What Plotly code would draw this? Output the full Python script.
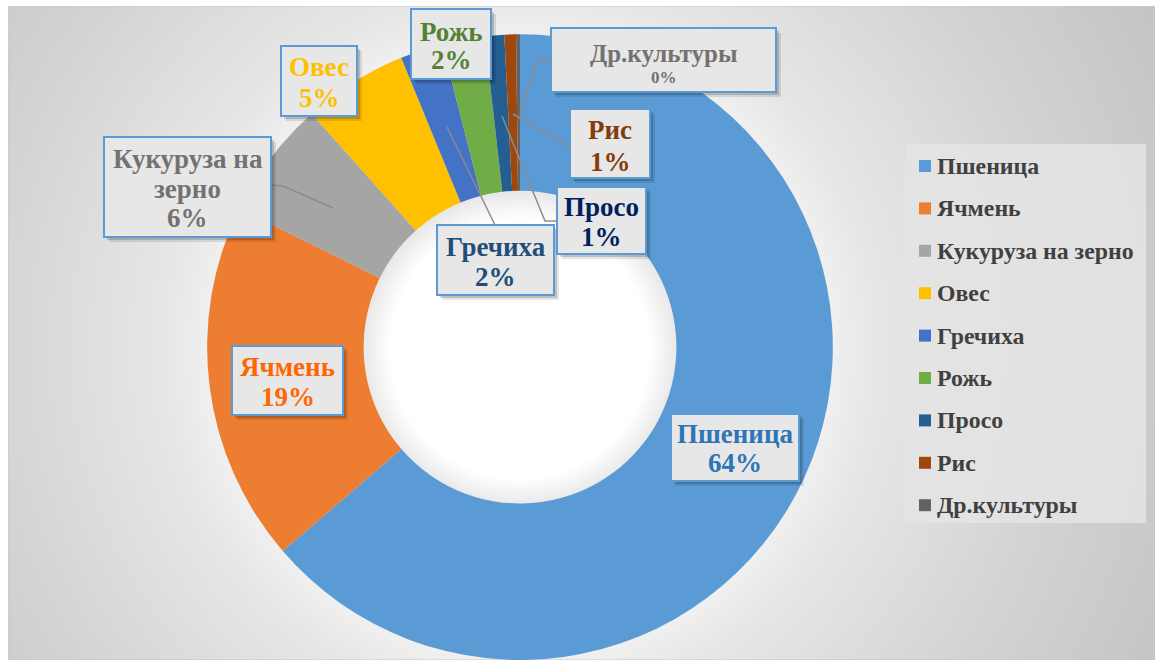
import base64
import plotly.graph_objects as go

# ---- data ----
crops = ["Пшеница", "Ячмень", "Кукуруза на зерно", "Овес", "Гречиха",
         "Рожь", "Просо", "Рис", "Др.культуры"]
shares = [63.7, 18.6, 6.1, 5.4, 2.2, 2.2, 1.0, 0.6, 0.2]

# ---- styles ----
slice_colors = ["#5B9BD5", "#ED7D31", "#A5A5A5", "#FFC000", "#4472C4",
                "#70AD47", "#255E91", "#9E480E", "#636363"]
label_colors = ["#2E75B6", "#FF6600", "#767171", "#FFC000", "#1F4E79",
                "#548235", "#002060", "#843C0C", "#767171"]
label_lines = {"Кукуруза на зерно": ["Кукуруза на", "зерно"]}
# label boxes in pixel space: x0, y0, x1, y1, line centre ys
label_boxes = [
    (671, 414, 799, 481, [434, 463]),
    (232, 346, 343, 415, [367, 397]),
    (104, 137, 271, 237, [159, 189, 218]),
    (281, 46, 357, 116, [67, 98]),
    (437, 225, 554, 295, [247, 277]),
    (411, 9, 491, 79, [32, 60]),
    (557, 187, 646, 254, [207, 237]),
    (570, 109, 650, 178, [130, 162]),
    (551, 28, 776, 92, [53, 77]),
]
leaders = {
    "Кукуруза на зерно": [(271, 185), (283, 186), (333, 208)],
    "Гречиха": [(495, 225), (447, 127)],
    "Просо": [(557, 221), (545, 221), (502, 116)],
    "Рис": [(570, 147), (513, 114)],
    "Др.культуры": [(551, 60), (537, 60), (520, 115)],
}
W, H = 1155, 660
FONT = "Liberation Serif"

# background radial gradient (chart area)
cx, cy = 512, 343
svg = f'''<svg xmlns="http://www.w3.org/2000/svg" width="1147" height="654" viewBox="0 0 1147 654" preserveAspectRatio="none">
<defs><radialGradient id="g" gradientUnits="userSpaceOnUse" cx="{cx}" cy="{cy}" r="720">
<stop offset="0" stop-color="#FFFFFF"/>
<stop offset="0.18" stop-color="#FFFFFF"/>
<stop offset="0.218" stop-color="#E8E8E8"/>
<stop offset="0.43" stop-color="#F0F0F0"/>
<stop offset="0.5" stop-color="#E6E6E6"/>
<stop offset="0.75" stop-color="#D3D3D3"/>
<stop offset="1" stop-color="#C4C4C4"/>
</radialGradient></defs>
<rect x="0" y="0" width="1147" height="654" fill="url(#g)" stroke="#C8C8C8" stroke-width="1"/>
</svg>'''
svg_uri = "data:image/svg+xml;base64," + base64.b64encode(svg.encode()).decode()

fig = go.Figure()
fig.add_trace(go.Scatter(x=[], y=[], showlegend=False, hoverinfo="skip"))
fig.add_trace(go.Pie(
    labels=crops, values=shares, hole=0.5, sort=False,
    direction="clockwise", rotation=0,
    marker=dict(colors=slice_colors, line=dict(width=0)),
    textinfo="none", showlegend=False,
    domain=dict(x=[0.1792, 0.7212], y=[0.0, 0.948]),
))

shapes = []
annotations = []
total = sum(shares)

# leader lines
for name, pts in leaders.items():
    path = "M " + " L ".join(f"{x},{y}" for x, y in pts)
    shapes.append(dict(type="path", path=path, xref="x", yref="y",
                       line=dict(color="#8C8C8C", width=1.5), layer="above"))

# data label boxes
for i, name in enumerate(crops):
    x0, y0, x1, y1, ys = label_boxes[i]
    for off, alpha in [(5, 0.10), (3, 0.16)]:
        shapes.append(dict(type="rect", xref="x", yref="y",
                           x0=x0 + off, y0=y0 + off, x1=x1 + off, y1=y1 + off,
                           fillcolor=f"rgba(0,0,0,{alpha})", line=dict(width=0),
                           layer="above"))
    shapes.append(dict(type="rect", xref="x", yref="y", x0=x0, y0=y0, x1=x1, y1=y1,
                       fillcolor="#E7E7E7", line=dict(color="#5B9BD5", width=2),
                       layer="above"))
    pct = f"{round(shares[i] / total * 100)}%"
    lines = label_lines.get(name, [name]) + [pct]
    for j, (txt, yy) in enumerate(zip(lines, ys)):
        size = 27
        if name == "Др.культуры":
            size = 25 if j == 0 else 17
        annotations.append(dict(
            x=(x0 + x1) / 2, y=yy, xref="x", yref="y", text=f"<b>{txt}</b>",
            showarrow=False, xanchor="center", yanchor="middle",
            font=dict(family=FONT, size=size, color=label_colors[i])))

# legend (manual)
shapes.append(dict(type="rect", xref="x", yref="y", x0=905, y0=144, x1=1146, y1=523,
                   fillcolor="rgba(228,228,228,0.85)", line=dict(width=0), layer="below"))
for i, name in enumerate(crops):
    yc = 166 + i * 42.4
    shapes.append(dict(type="rect", xref="x", yref="y", x0=919, y0=yc - 6, x1=931, y1=yc + 6,
                       fillcolor=slice_colors[i], line=dict(width=0), layer="above"))
    annotations.append(dict(x=935, y=yc, xref="x", yref="y", text=f"<b>{name}</b>",
                            showarrow=False, xanchor="left", yanchor="middle",
                            font=dict(family=FONT, size=23.8, color="#404040")))

fig.update_layout(
    width=W, height=H, margin=dict(l=0, r=0, t=0, b=0),
    paper_bgcolor="white", plot_bgcolor="rgba(0,0,0,0)",
    xaxis=dict(range=[0, W], visible=False, fixedrange=True, domain=[0, 1]),
    yaxis=dict(range=[H, 0], visible=False, fixedrange=True, domain=[0, 1]),
    shapes=shapes, annotations=annotations,
    images=[dict(source=svg_uri, xref="paper", yref="paper",
                 x=8 / W, y=1 - 6 / H, sizex=1147 / W, sizey=654 / H,
                 xanchor="left", yanchor="top", sizing="stretch", layer="below")],
    showlegend=False,
)

fig.write_html("out.html", config={"displayModeBar": False},
               post_script="document.body.style.margin='0';")
